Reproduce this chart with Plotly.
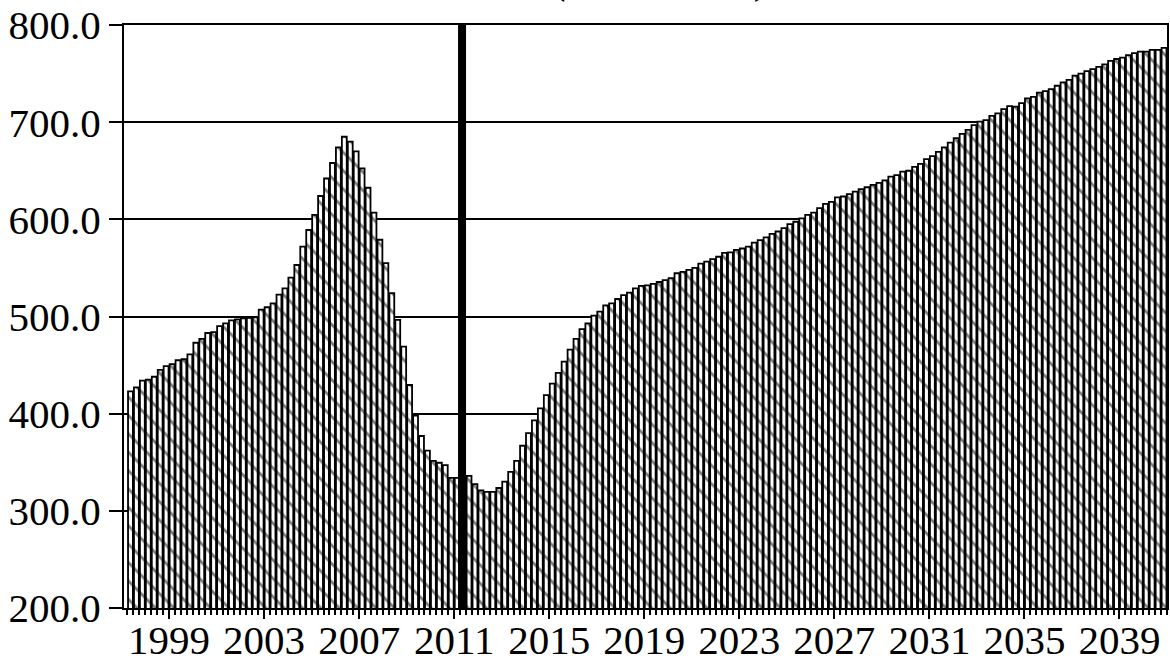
import plotly.graph_objects as go

# Quarterly series, first bar is 1997Q2, last bar is 2040Q4
start_year, start_quarter = 1997, 2
values = [
    423, 427, 434,                  # 1997 Q2-Q4
    435, 438, 445, 449,             # 1998
    451, 455, 456, 461,             # 1999
    473, 477, 483, 484,             # 2000
    490, 493, 496, 497,             # 2001
    498, 498.5, 499, 507,           # 2002
    509.5, 513.5, 522.5, 529,       # 2003
    540, 553, 572, 589,             # 2004
    604.5, 624, 642, 658,           # 2005
    674, 685, 680, 670,             # 2006
    652.5, 632.5, 607, 579,         # 2007
    555, 524, 496.5, 469,           # 2008
    429.5, 398, 377, 362,           # 2009
    351.5, 349.5, 347, 334,         # 2010
    334, 335, 336, 327.5,           # 2011
    321, 319.5, 319.5, 323.5,       # 2012
    330, 340, 351.5, 367,           # 2013
    380, 393, 405.5, 419,           # 2014
    431, 442, 453.5, 466,           # 2015
    477, 487, 493, 501,             # 2016
    505, 511.5, 513.5, 518,         # 2017
    522, 524.5, 529, 531.5,         # 2018
    532, 533.5, 535.5, 537.5,       # 2019
    539.5, 544.5, 546, 548,         # 2020
    550, 554.5, 556.5, 559,         # 2021
    561.5, 565.5, 566, 568.5,       # 2022
    570, 572, 576, 578.5,           # 2023
    581.5, 585, 587.5, 591,         # 2024
    595, 597.5, 601, 604.5,         # 2025
    607, 611.5, 616, 618,           # 2026
    622.5, 623.5, 626, 628.5,       # 2027
    631, 633, 635.5, 637.5,         # 2028
    640, 644, 645.5, 649,           # 2029
    650, 654, 657, 662,             # 2030
    665, 669.5, 674, 679,           # 2031
    683.5, 688, 692, 697,           # 2032
    700.5, 702, 706.5, 709,         # 2033
    713.5, 716.5, 716, 719.5,       # 2034
    724.5, 726, 730.5, 732,         # 2035
    734, 737.5, 741, 743.5,         # 2036
    748, 750, 752.5, 754.5,         # 2037
    757, 759.5, 763, 765,           # 2038
    766.5, 769, 771, 772.5,         # 2039
    772.5, 774.5, 774.5, 776.5,     # 2040
]

tick_years = [1999, 2003, 2007, 2011, 2015, 2019, 2023, 2027, 2031, 2035, 2039]
tick_labels = [str(y) for y in tick_years]
y_ticks = [200, 300, 400, 500, 600, 700, 800]
break_x = 2011.33  # thick marker line (start of projection)
title_text = '(thousands)'

FONT = 'Liberation Serif'

# quarter labels -> position on a year axis (bar centred in its quarter)
quarters = []
yr, qt = start_year, start_quarter
for _ in values:
    quarters.append(f'{yr}Q{qt}')
    qt += 1
    if qt > 4:
        yr, qt = yr + 1, 1
x_pos = [int(s[:4]) + (int(s[5]) - 1) / 4 + 0.125 for s in quarters]

fig = go.Figure()
fig.add_trace(go.Bar(
    x=x_pos,
    y=values,
    width=0.25 * 0.82,
    text=quarters,
    textposition='none',
    hovertemplate='%{text}: %{y:.1f}<extra></extra>',
    marker=dict(color='white',
                line=dict(color='black', width=1.8),
                pattern=dict(shape='\\', fgcolor='black', bgcolor='white',
                             size=13, solidity=0.22)),
))

fig.add_shape(type='line', xref='x', yref='y', x0=break_x, x1=break_x,
              y0=200, y1=800, line=dict(color='black', width=8))

# title sits mostly above the window, only the bottom of the brackets shows
fig.add_annotation(text=title_text, xref='paper', yref='paper', x=0.513, y=1.0365,
                   xanchor='center', yanchor='bottom', showarrow=False,
                   font=dict(family=FONT, size=47, color='black'))

fig.update_layout(
    width=1170, height=661,
    margin=dict(l=124, r=3, t=25, b=53, autoexpand=False),
    paper_bgcolor='white', plot_bgcolor='white',
    showlegend=False,
    xaxis=dict(range=[1997.103, 2041.0], automargin=False,
               tickmode='array', tickvals=tick_years, ticktext=tick_labels,
               ticks='outside', ticklen=9, tickwidth=1.5, tickcolor='black',
               ticklabelstandoff=-14,
               minor=dict(dtick=0.25, tick0=1997, ticks='outside', ticklen=5,
                          tickwidth=1.5, tickcolor='black', showgrid=False),
               showline=True, linewidth=2, linecolor='black', mirror=True,
               showgrid=False, zeroline=False,
               tickfont=dict(family=FONT, size=41, color='black')),
    yaxis=dict(range=[200, 800], automargin=False,
               tickmode='array', tickvals=y_ticks, tickformat='.1f',
               ticks='outside', ticklen=13, tickwidth=2, tickcolor='black',
               showline=True, linewidth=2, linecolor='black', mirror=True,
               showgrid=True, gridcolor='black', gridwidth=2, zeroline=False,
               tickfont=dict(family=FONT, size=41, color='black')),
)

# the page's default 8px body margin would push the fixed-size figure off the window
fig.write_html('out.html', config={'displayModeBar': False},
               post_script='document.body.style.margin = "0";')
